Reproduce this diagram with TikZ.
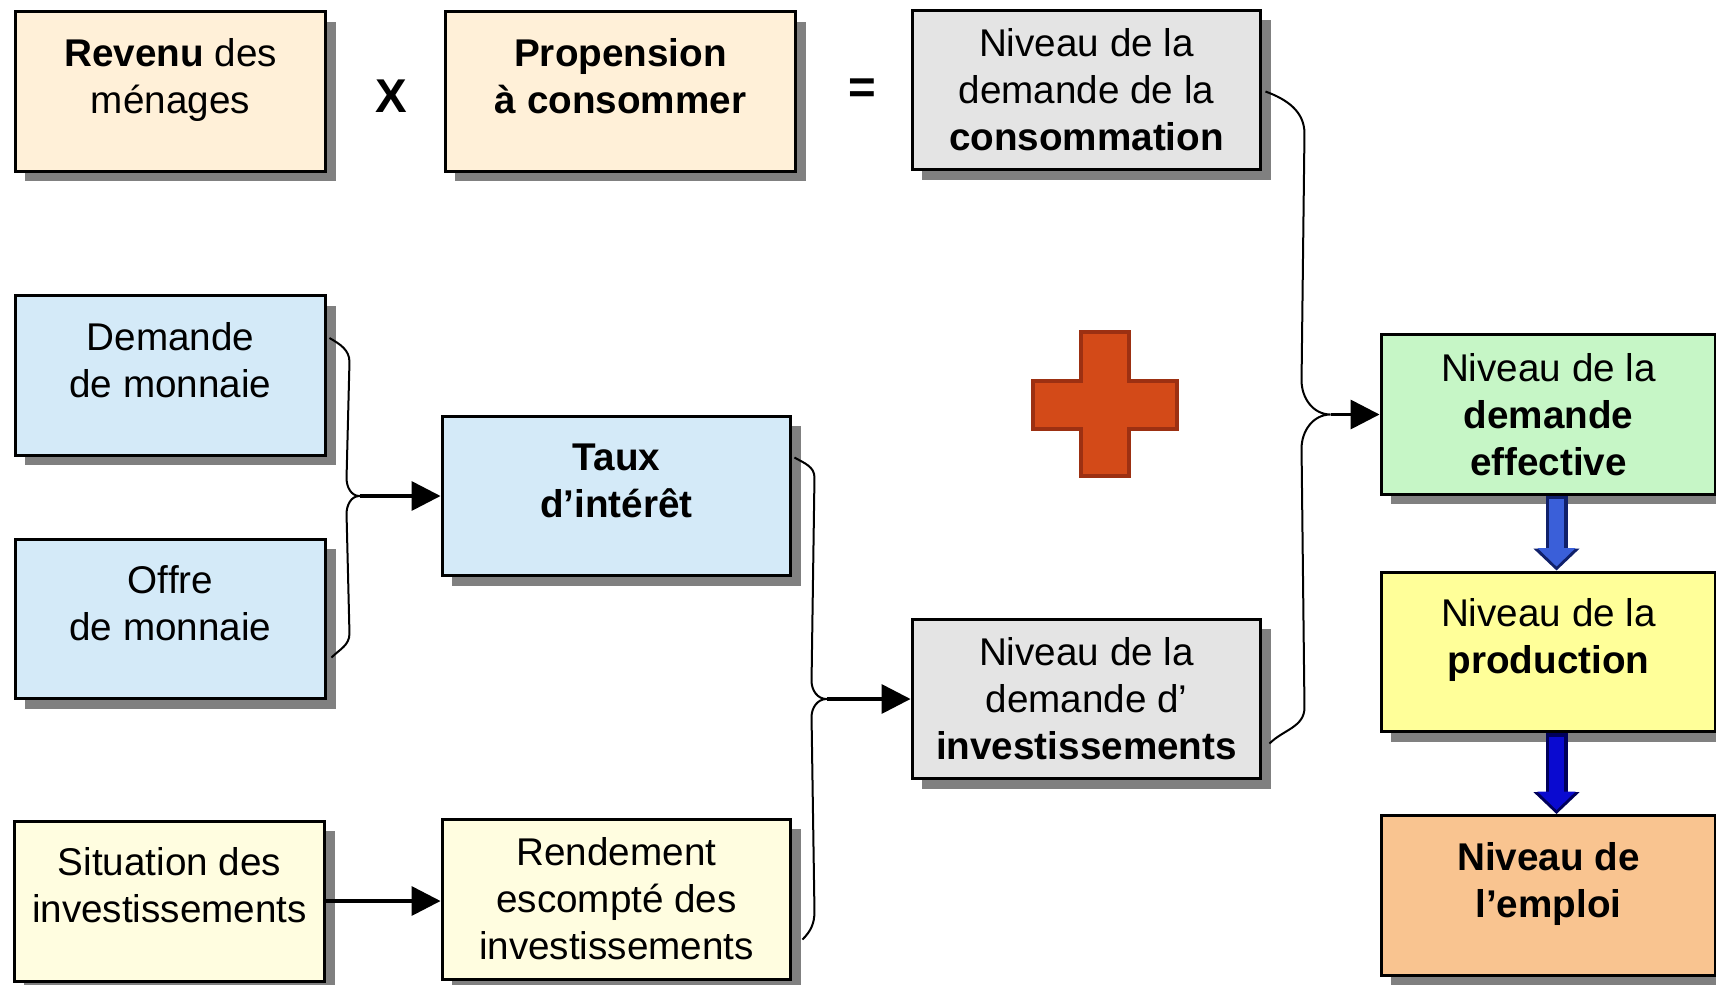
\documentclass[tikz,border=0pt]{standalone}
\usepackage{fontspec}
\setmainfont{Liberation Sans}
\usetikzlibrary{calc,shadows,arrows.meta}
\definecolor{creme}{HTML}{FFF0D8}
\definecolor{gris}{HTML}{E4E4E4}
\definecolor{bleuclair}{HTML}{D4EAF8}
\definecolor{jaunepale}{HTML}{FFFDE0}
\definecolor{vertclair}{HTML}{C6F6C6}
\definecolor{jaune}{HTML}{FFFF99}
\definecolor{saumon}{HTML}{F9C490}
\definecolor{ombre}{HTML}{808080}
\definecolor{croix}{HTML}{D34A18}
\definecolor{croixbord}{HTML}{9C3012}
\definecolor{bleuA}{HTML}{3A5FD9}
\definecolor{bleuAbord}{HTML}{10206A}
\definecolor{bleuB}{HTML}{0A0AD0}
\definecolor{bleuBbord}{HTML}{00005A}
\newcommand{\haut}{\rule{0pt}{15.5pt}}
\begin{document}
\begin{tikzpicture}[x=0.02cm, y=-0.02cm,
  box/.style={draw, line width=0.06cm, minimum height=3.2cm, align=center, inner sep=0pt,
    font=\fontsize{22}{26.8}\selectfont,
    drop shadow={shadow xshift=0.2cm, shadow yshift=-0.2cm, fill=ombre, opacity=1}},
  boxl/.style={box, minimum width=6.22cm},
  boxm/.style={box, minimum width=6.98cm},
  boxr/.style={box, minimum width=6.7cm},
  signe/.style={font=\fontsize{27}{30}\selectfont\bfseries},
  accolade/.style={line width=0.04cm},
  fleche/.style={line width=0.07cm, -{Triangle[length=0.58cm, width=0.58cm]}},
  grosse/.style={line width=0.44cm, -{Triangle[length=0.44cm, width=0.9cm]}},
  grosseint/.style={line width=0.3cm, shorten >=0.08cm, shorten <=0.07cm, -{Triangle[length=0.37cm, width=0.74cm]}}]
\useasboundingbox (0,0) rectangle (1716,984);

% consommation
\node[boxl, fill=creme] (revenu) at (170.5,91.5) {\haut\textbf{Revenu} des\\ménages\\[-9pt]};
\node[signe] (fois) at (391,96) {X};
\node[box, minimum width=7.02cm, fill=creme] (propension) at (620.5,91.5) {\haut\textbf{Propension}\\\textbf{à consommer}\\[-9pt]};
\node[signe] (egal) at (862,91) {=};
\node[boxm, fill=gris] (conso) at (1086.5,90) {\haut Niveau de la\\demande de la\\\textbf{consommation}};

% investissement
\node[boxl, fill=bleuclair] (demande) at (170.5,375.5) {\haut Demande\\de monnaie\\[-9pt]};
\node[boxl, fill=bleuclair] (offre) at (170.5,619) {\haut Offre\\de monnaie\\[-9pt]};
\node[boxm, fill=bleuclair] (taux) at (616.5,496) {\haut\textbf{Taux}\\\textbf{d’intérêt}\\[-9pt]};
\node[boxl, fill=jaunepale] (situation) at (169.5,901) {\haut Situation des\\investissements\\[-9pt]};
\node[boxm, fill=jaunepale] (rendement) at (616.5,899) {\haut Rendement\\escompté des\\investissements};
\node[boxm, fill=gris] (invest) at (1086.5,699) {\haut Niveau de la\\demande d'\\\textbf{investissements}};

% demande effective
\node[boxr, fill=vertclair] (effective) at (1548.5,414.5) {\haut Niveau de la\\\textbf{demande}\\\textbf{effective}};
\node[boxr, fill=jaune] (production) at (1548.5,652) {\haut Niveau de la\\\textbf{production}\\[-9pt]};
\node[boxr, fill=saumon] (emploi) at (1548.5,895.5) {\haut\textbf{Niveau de}\\\textbf{l’emploi}\\[-9pt]};

% la croix
\filldraw[fill=croix, draw=croixbord, line width=0.08cm] (1081,332) -- (1129,332) -- (1129,381) -- (1177,381) -- (1177,429) -- (1129,429) -- (1129,476) -- (1081,476) -- (1081,429) -- (1033,429) -- (1033,381) -- (1081,381) -- cycle;

% accolades
\coordinate (j1) at ($(taux.west)+(-81,0)$);
\coordinate (j2) at ($(invest.west)+(-84,0)$);
\coordinate (j3) at ($(effective.west)+(-49,0)$);
\draw[accolade] ($(demande.north east)+(2,44)$) to[out=-30,in=90] ($(demande.north east)+(22,68)$)
  -- ($(j1)+(-13,-18)$) to[out=-90,in=180] (j1) to[out=180,in=90] ($(j1)+(-13,18)$)
  -- ($(offre.north east)+(22,96)$) to[out=-90,in=45] ($(offre.north east)+(4,120)$);
\draw[accolade] ($(taux.north east)+(2,43)$) to[out=-30,in=90] ($(taux.north east)+(22,63)$)
  -- ($(j2)+(-15,-18)$) to[out=-90,in=180] (j2) to[out=180,in=90] ($(j2)+(-15,18)$)
  -- ($(rendement.north east)+(22,94)$) to[out=-90,in=45] ($(rendement.north east)+(10,122)$);
\draw[accolade] ($(conso.north east)+(3,83)$) to[out=-20,in=90] ($(conso.north east)+(42,125)$)
  -- ($(j3)+(-29,-34)$) to[out=-90,in=180] (j3) to[out=180,in=90] ($(j3)+(-29,34)$)
  -- ($(invest.north east)+(42,90)$) to[out=-90,in=45] ($(invest.north east)+(7,126)$);

% fleches
\draw[fleche] (j1) -- (taux.west);
\draw[fleche] (j2) -- (invest.west);
\draw[fleche] (j3) -- (effective.west);
\draw[fleche] (situation.east) -- (situation.east -| rendement.west);
\draw[grosse, bleuAbord] ($(effective.south)+(8,0)$) -- ($(production.north)+(8,0)$);
\draw[grosseint, bleuA] ($(effective.south)+(8,0)$) -- ($(production.north)+(8,0)$);
\draw[grosse, bleuBbord] ($(production.south)+(8,0)$) -- ($(emploi.north)+(8,0)$);
\draw[grosseint, bleuB] ($(production.south)+(8,0)$) -- ($(emploi.north)+(8,0)$);
\end{tikzpicture}
\end{document}
